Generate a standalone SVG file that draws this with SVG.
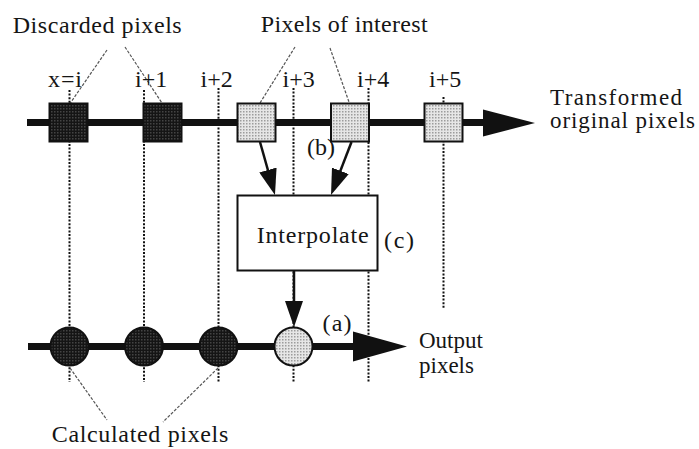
<svg xmlns="http://www.w3.org/2000/svg" width="699" height="449" viewBox="0 0 699 449">
<style>
text{font-family:"Liberation Serif","Times New Roman",serif;font-size:24px;fill:#151515}
.two{font-size:23px}
.dot{stroke:#111;stroke-width:2;stroke-dasharray:2 1.6;fill:none}
.lead{stroke:#555;stroke-width:1.2;stroke-dasharray:3 1.5;fill:none}
.axis{stroke:#111;stroke-width:7;fill:none}
.head{fill:#111}
.arr{stroke:#111;stroke-width:2.5;fill:none;marker-end:url(#ah)}
.dk{fill:url(#pd);stroke:#111;stroke-width:2}
.lt{fill:url(#pl);stroke:#111;stroke-width:2}
</style>
<defs>
<pattern id="pl" width="3" height="3" patternUnits="userSpaceOnUse"><rect width="3" height="3" fill="#e6e6e6"/><rect width="1.5" height="1.5" fill="#9c9c9c"/></pattern>
<pattern id="pd" width="3" height="3" patternUnits="userSpaceOnUse"><rect width="3" height="3" fill="#151515"/><rect width="1.5" height="1.5" fill="#444"/></pattern>
<marker id="ah" viewBox="0 0 26 18" markerUnits="userSpaceOnUse" markerWidth="26" markerHeight="18" refX="18" refY="9" orient="auto"><path d="M0,0 L26,9 L0,18 z" fill="#111"/></marker>
</defs>
<rect width="699" height="449" fill="#fff"/>
<g id="grid">
<line class="dot" x1="69.5" y1="90" x2="69.5" y2="382"/>
<line class="dot" x1="144" y1="90" x2="144" y2="382"/>
<line class="dot" x1="218.5" y1="88" x2="218.5" y2="382"/>
<line class="dot" x1="293.5" y1="88" x2="293.5" y2="382"/>
<line class="dot" x1="368.5" y1="88" x2="368.5" y2="382"/>
<line class="dot" x1="443.5" y1="97" x2="443.5" y2="308"/>
</g>
<g id="connectors">
<line class="lead" x1="107" y1="50" x2="69" y2="105"/>
<line class="lead" x1="125" y1="47" x2="162" y2="103"/>
<line class="lead" x1="295" y1="47" x2="260" y2="103"/>
<line class="lead" x1="330" y1="48" x2="349" y2="102"/>
<line class="lead" x1="70" y1="368" x2="107" y2="420"/>
<line class="lead" x1="218" y1="368" x2="163" y2="422"/>
<line class="axis" x1="27" y1="122.5" x2="490" y2="122.5"/>
<polygon class="head" points="483,109.5 535,123 483,136.5"/>
<line class="axis" x1="28" y1="346.5" x2="360" y2="346.5"/>
<polygon class="head" points="353,331.5 407,346.5 353,361.5"/>
<line class="arr" x1="260" y1="142" x2="272.8" y2="187.3"/>
<line class="arr" x1="351.5" y1="142" x2="333.9" y2="187.6"/>
<line class="arr" x1="294" y1="271" x2="294" y2="319"/>
</g>
<g id="discarded">
<rect class="dk" x="49.5" y="103.5" width="38" height="38"/>
<rect class="dk" x="143.5" y="103.5" width="38" height="38"/>
</g>
<g id="interest">
<rect class="lt" x="237.5" y="103.5" width="38" height="38"/>
<rect class="lt" x="331" y="103.5" width="38" height="38"/>
<rect class="lt" x="424.5" y="103.5" width="38" height="38"/>
</g>
<g id="interpolate">
<rect x="237.5" y="195.5" width="140" height="75" fill="#fff" stroke="#111" stroke-width="2"/>
<text x="256.7" y="243" textLength="112" lengthAdjust="spacing">Interpolate</text>
</g>
<g id="calculated">
<circle class="dk" cx="69.5" cy="346.5" r="19"/>
<circle class="dk" cx="144" cy="346.5" r="19"/>
<circle class="dk" cx="218.5" cy="346.5" r="19"/>
<circle class="lt" cx="293.5" cy="346.5" r="19"/>
</g>
<g id="labels">
<text x="12.7" y="33" textLength="169" lengthAdjust="spacing">Discarded pixels</text>
<text x="260.7" y="32" textLength="167" lengthAdjust="spacing">Pixels of interest</text>
<text x="48" y="86.5" textLength="34" lengthAdjust="spacing">x=i</text>
<text x="135" y="86.5">i+1</text>
<text x="200.5" y="86.5">i+2</text>
<text x="282.5" y="86.5">i+3</text>
<text x="357" y="86.5">i+4</text>
<text x="429" y="86.5">i+5</text>
<text class="two"><tspan x="550" y="105" textLength="132" lengthAdjust="spacing">Transformed</tspan><tspan x="550" y="128" textLength="145" lengthAdjust="spacing">original pixels</tspan></text>
<text x="307" y="155">(b)</text>
<text x="384" y="248" textLength="30" lengthAdjust="spacing">(c)</text>
<text x="322.5" y="331" textLength="29" lengthAdjust="spacing">(a)</text>
<text class="two"><tspan x="419" y="348">Output</tspan><tspan x="419" y="373">pixels</tspan></text>
<text x="51.7" y="441.5" textLength="176.6" lengthAdjust="spacing">Calculated pixels</text>
</g>
</svg>
